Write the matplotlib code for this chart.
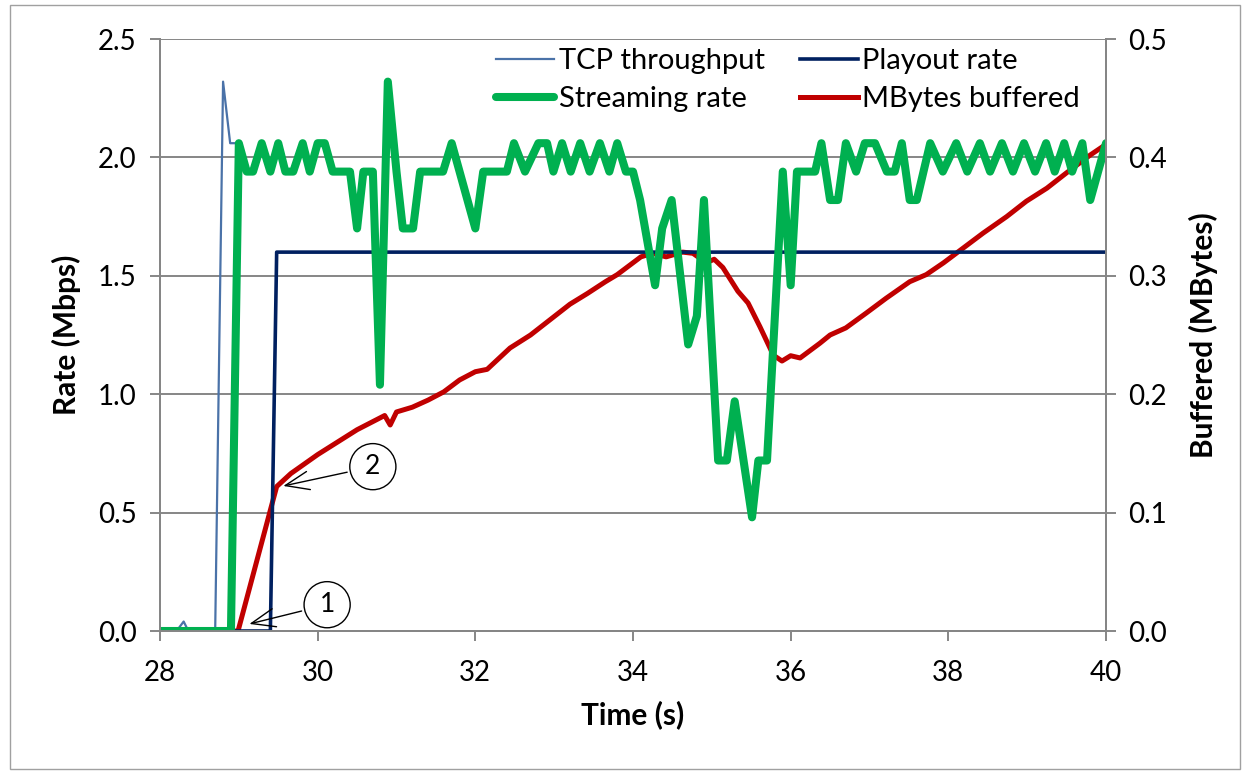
import matplotlib as mpl
mpl.use('Agg')

import matplotlib.pyplot as plt
from matplotlib.patches import Rectangle

plt.rcParams['font.family'] = ['Lato', 'DejaVu Sans']

# streaming rate (Mbps)
stream_t = [28.00, 28.90, 29.00, 29.10, 29.18, 29.29, 29.40, 29.50, 29.59, 29.69,
            29.81, 29.90, 30.00, 30.09, 30.19, 30.41, 30.50, 30.58, 30.70, 30.79,
            30.89, 31.00, 31.08, 31.21, 31.30, 31.59, 31.70, 32.00, 32.10, 32.40,
            32.49, 32.63, 32.80, 32.91, 32.99, 33.10, 33.21, 33.33, 33.45, 33.58,
            33.70, 33.80, 33.91, 34.00, 34.09, 34.28, 34.37, 34.49, 34.70, 34.81,
            34.90, 35.08, 35.19, 35.29, 35.51, 35.59, 35.70, 35.90, 36.00, 36.08,
            36.31, 36.39, 36.50, 36.60, 36.70, 36.83, 36.94, 37.07, 37.22, 37.32,
            37.41, 37.51, 37.60, 37.77, 37.93, 38.10, 38.24, 38.40, 38.53, 38.68,
            38.82, 38.96, 39.10, 39.24, 39.35, 39.47, 39.57, 39.70, 39.80, 40.00]
stream_v = [0.00, 0.00, 2.06, 1.94, 1.94, 2.06, 1.94, 2.06, 1.94, 1.94,
            2.06, 1.94, 2.06, 2.06, 1.94, 1.94, 1.70, 1.94, 1.94, 1.04,
            2.32, 1.94, 1.70, 1.70, 1.94, 1.94, 2.06, 1.70, 1.94, 1.94,
            2.06, 1.94, 2.06, 2.06, 1.94, 2.06, 1.94, 2.06, 1.94, 2.06,
            1.94, 2.06, 1.94, 1.94, 1.82, 1.46, 1.70, 1.82, 1.21, 1.33,
            1.82, 0.72, 0.72, 0.97, 0.48, 0.72, 0.72, 1.94, 1.46, 1.94,
            1.94, 2.06, 1.82, 1.82, 2.06, 1.94, 2.06, 2.06, 1.94, 1.94,
            2.06, 1.82, 1.82, 2.06, 1.94, 2.06, 1.94, 2.06, 1.94, 2.06,
            1.94, 2.06, 1.94, 2.06, 1.94, 2.06, 1.94, 2.06, 1.82, 2.06]

# tcp throughput, only the visible start (rest sits under the green line)
tcp_t = [28.00, 28.21, 28.30, 28.36, 28.70, 28.80, 28.89, 29.00]
tcp_v = [0.00, 0.00, 0.04, 0.00, 0.00, 2.32, 2.06, 2.06]

playout_t = [28.00, 29.40, 29.48, 40.00]
playout_v = [0.00, 0.00, 1.60, 1.60]

# buffered data (MBytes), right axis
buf_t = [28.00, 28.99, 29.48, 29.66, 30.00, 30.50, 30.85, 30.92, 31.00, 31.20,
         31.40, 31.60, 31.80, 32.00, 32.15, 32.44, 32.70, 32.95, 33.20, 33.42,
         33.65, 33.80, 34.10, 34.25, 34.42, 34.63, 34.76, 34.93, 35.03, 35.14,
         35.33, 35.46, 35.61, 35.78, 35.89, 36.00, 36.12, 36.37, 36.50, 36.70,
         36.96, 37.21, 37.51, 37.72, 37.94, 38.19, 38.44, 38.74, 38.99, 39.25,
         39.50, 39.80, 40.00]
buf_v = [0.000, 0.000, 0.122, 0.133, 0.149, 0.170, 0.182, 0.174, 0.185, 0.189,
         0.195, 0.202, 0.212, 0.219, 0.221, 0.239, 0.250, 0.263, 0.276, 0.285,
         0.295, 0.301, 0.316, 0.319, 0.316, 0.320, 0.319, 0.311, 0.314, 0.307,
         0.287, 0.277, 0.257, 0.233, 0.228, 0.2325, 0.2306, 0.243, 0.250, 0.256,
         0.2686, 0.281, 0.295, 0.301, 0.311, 0.3235, 0.336, 0.350, 0.363, 0.374,
         0.387, 0.402, 0.411]

x_ticks = [28, 30, 32, 34, 36, 38, 40]
rate_ticks = [0.0, 0.5, 1.0, 1.5, 2.0, 2.5]
buf_ticks = [0.0, 0.1, 0.2, 0.3, 0.4, 0.5]

grey = '#868686'
fs = 20

fig = plt.figure(figsize=(12.44, 7.72), dpi=100)
ax = fig.add_axes([160/1244, 1 - 631/772, 946/1244, 592/772])
ax2 = ax.twinx()
# rate series drawn above the buffer line
ax.set_zorder(ax2.get_zorder() + 1)
ax.patch.set_visible(False)

ax2.plot(buf_t, buf_v, color='#c00000', lw=3.6, solid_joinstyle='round',
         label='MBytes buffered')
ax.plot(tcp_t, tcp_v, color='#4a72a8', lw=1.6, label='TCP throughput')
ax.plot(playout_t, playout_v, color='#002060', lw=2.6, label='Playout rate')
ax.plot(stream_t, stream_v, color='#00b050', lw=5.8, solid_joinstyle='round',
        solid_capstyle='round', label='Streaming rate')

ax.set_xlim(28, 40)
ax.set_ylim(0, 2.5)
ax2.set_ylim(0, 0.5)
ax.set_xticks(x_ticks)
ax.set_yticks(rate_ticks)
ax2.set_yticks(buf_ticks)
ax.set_yticklabels(['%.1f' % v for v in rate_ticks])
ax2.set_yticklabels(['%.1f' % v for v in buf_ticks])

ax2.grid(axis='y', color=grey, lw=1.4)
ax2.set_axisbelow(True)
for a in (ax, ax2):
    for s in a.spines.values():
        s.set_color(grey)
        s.set_linewidth(1.4)
    a.tick_params(labelsize=fs, color=grey, width=1.4, length=7, pad=10)
ax.tick_params(axis='x', pad=14)
ax2.tick_params(axis='y', pad=9)
ax.spines['top'].set_visible(False)
ax2.spines['top'].set_visible(False)

ax.set_xlabel('Time (s)', fontsize=21.5, fontweight='bold', labelpad=10)
ax.set_ylabel('Rate (Mbps)', fontsize=21.5, fontweight='bold', labelpad=12)
ax2.set_ylabel('Buffered (MBytes)', fontsize=21.5, fontweight='bold', labelpad=16)

h1, l1 = ax.get_legend_handles_labels()
h2, l2 = ax2.get_legend_handles_labels()
hd = dict(zip(l1 + l2, h1 + h2))
order = ['TCP throughput', 'Streaming rate', 'Playout rate', 'MBytes buffered']
ax.legend([hd[k] for k in order], order, ncol=2, loc='upper right',
          bbox_to_anchor=(0.985, 1.004), frameon=False, fontsize=21,
          handlelength=2.0, handletextpad=0.15, columnspacing=1.2,
          labelspacing=0.4, borderaxespad=0.0)

# numbered call-outs
circ = dict(boxstyle='circle,pad=0.4', fc='white', ec='black', lw=1.0)
arr = dict(arrowstyle='->,head_length=0.9,head_width=0.35', color='black', lw=1.0)
ax.annotate('1', xy=(29.10, 0.027), xytext=(30.12, 0.111), fontsize=19,
            ha='center', va='center', bbox=circ, arrowprops=arr)
ax.annotate('2', xy=(29.53, 0.61), xytext=(30.70, 0.694), fontsize=19,
            ha='center', va='center', bbox=circ, arrowprops=arr)

fig.patches.append(Rectangle((0.008, 0.004), 0.989, 0.99, transform=fig.transFigure,
                             fill=False, ec='#a0a0a0', lw=1.0))

plt.savefig('out.png', dpi=100)
